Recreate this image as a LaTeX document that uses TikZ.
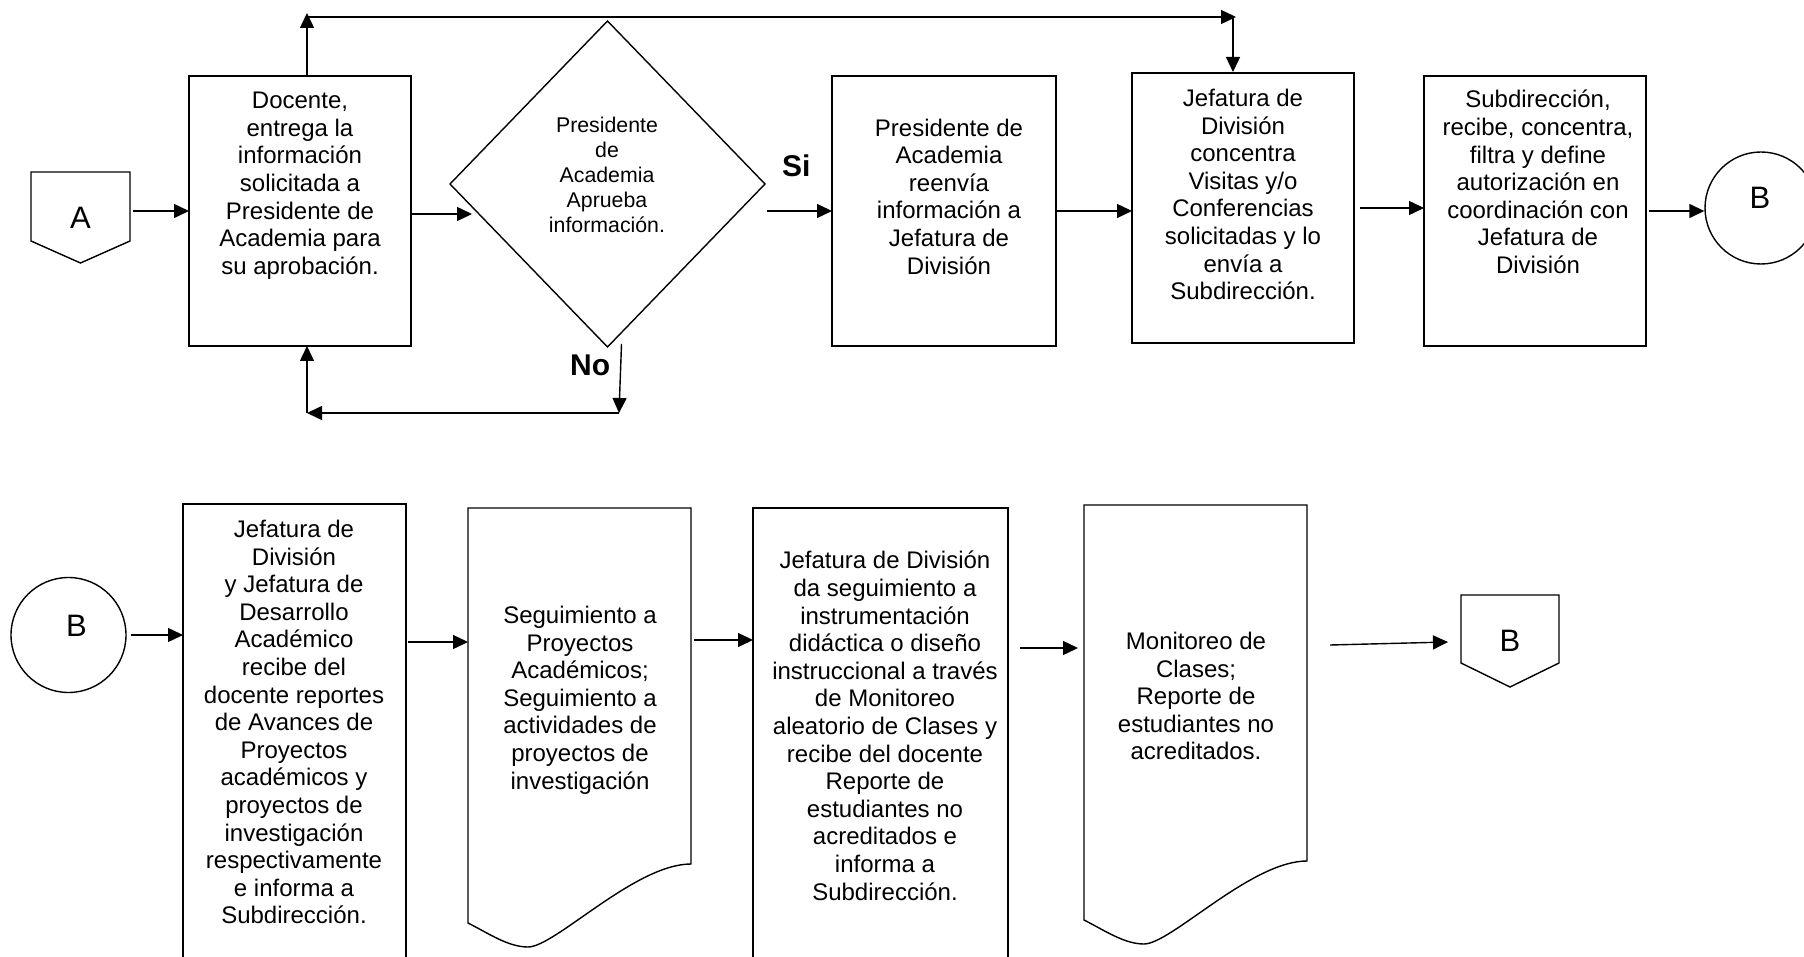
\documentclass[tikz,border=0pt]{standalone}
\usepackage{fontspec}
\setmainfont{Liberation Sans}
\usetikzlibrary{arrows.meta,shapes.geometric,calc}
\newcommand{\mydocshape}[1]{%
  \draw[ln] (#1.south west) -- (#1.north west) -- (#1.north east) -- ($(#1.south east)+(0,-59)$)
    .. controls ($(#1.south east)+(-56,-59)$) and ($(#1.south west)+(87,24)$) .. ($(#1.south west)+(60,24)$)
    .. controls ($(#1.south west)+(40,24)$) and ($(#1.south west)+(20,10)$) .. (#1.south west) -- cycle;}
\begin{document}
\begin{tikzpicture}[x=1pt,y=-1pt,
  ln/.style={line width=1.4pt},
  arr/.style={line width=1.4pt,-{Triangle[length=15pt,width=14pt]}},
  box/.style={draw,line width=1.4pt,rectangle,inner sep=0pt,outer sep=0pt},
  shp/.style={rectangle,inner sep=0pt,outer sep=0pt},
  txt/.style={anchor=north,inner sep=0pt,align=center,font=\fontsize{24}{27.6}\selectfont,
    execute at begin node={\rule{0pt}{0.75em}}},
  dtxt/.style={anchor=north,inner sep=0pt,align=center,font=\fontsize{21.3}{25}\selectfont,
    execute at begin node={\rule{0pt}{0.75em}}},
  lbl/.style={anchor=base west,inner sep=0pt,font=\fontsize{30}{30}\selectfont\bfseries},
  let/.style={inner sep=0pt,font=\fontsize{31}{31}\selectfont}
]
\useasboundingbox (0,0) rectangle (1804,957);
\fill[white] (0,0) rectangle (1804,957);
\clip (0,0) rectangle (1804,957);

% ---------- top row ----------
\node[shp, minimum width=99pt, minimum height=91pt] (offA) at (80.5,217.5) {};
\draw[ln] (offA.north west) -- (offA.north east) -- ($(offA.south east)+(0,-22)$) -- (offA.south)
  -- ($(offA.south west)+(0,-22)$) -- cycle;
\node[let] (tA) at (offA.center) {A};

\node[box, minimum width=222pt, minimum height=270pt] (box1) at (300,211) {};
\node[txt] (t1) at (300,92) {Docente,\\entrega la\\información\\solicitada a\\Presidente de\\Academia para\\su aprobación.};

\node[diamond, draw, line width=1.4pt, inner sep=0pt, outer sep=0pt, minimum width=315pt, minimum height=326pt] (dia) at (607.5,184) {};
\node[dtxt] (tdia) at (607,117) {Presidente\\de\\Academia\\Aprueba\\información.};

\node[box, minimum width=224pt, minimum height=270pt] (box2) at (944,211) {};
\node[txt] (t2) at (949,118.5) {Presidente de\\Academia\\reenvía\\información a\\Jefatura de\\División};

\node[box, minimum width=222pt, minimum height=270pt] (box3) at (1243,208) {};
\node[txt] (t3) at (1243,89) {Jefatura de\\División\\concentra\\Visitas y/o\\Conferencias\\solicitadas y lo\\envía a\\Subdirección.};

\node[box, minimum width=222pt, minimum height=270pt] (box4) at (1535,211) {};
\node[txt] (t4) at (1538,90) {Subdirección,\\recibe, concentra,\\filtra y define\\autorización en\\coordinación con\\Jefatura de\\División};

\node[circle, draw, line width=1.4pt, inner sep=0pt, minimum size=112pt] (cB) at (1761,208) {};
\node[let] (tcB) at (1760,197.5) {B};

\node[lbl] (si) at (782,177) {Si};
\node[lbl] (no) at (570,375) {No};

% connectors top row
\draw[arr, shorten <=3pt] (offA.east |- box1.west) -- (box1.west);
\coordinate (dinL) at ($(dia.west)+(22,30)$);
\draw[arr] (box1.east |- dinL) -- (dinL);
\draw[arr] ([xshift=2pt]dia.east |- box2.west) -- (box2.west);
\draw[arr] (box2.east) -- (box2.east -| box3.west);
\draw[arr, shorten <=6pt] (box3.east) -- (box3.east -| box4.west);
\draw[arr, shorten <=3pt] (box4.east) -- (box4.east -| cB.west);

% top loop
\coordinate (tl) at (307,13);
\coordinate (tr) at (1233,17);
\draw[arr] (box1.north -| tl) -- (tl);
\draw[arr] (tl |- tr) -- ([xshift=3pt]tr);
\draw[arr, shorten >=1pt] (tr) -- (tr |- box3.north);

% No loop
\coordinate (nr) at (619,413);
\coordinate (nl) at (307,413);
\draw[arr] ([xshift=14pt,yshift=3pt]dia.south) -- (nr);
\draw[arr] (nr) -- (nl);
\draw[arr] (nl) -- (nl |- box1.south);

% ---------- bottom row ----------
\node[circle, draw, line width=1.4pt, inner sep=0pt, minimum size=115pt] (cB2) at (68.5,635) {};
\node[let] (tcB2) at (76.5,626) {B};

\node[box, minimum width=223pt, minimum height=476pt] (L1) at (294.5,742) {};
\node[txt] (tL1) at (294,520) {Jefatura de\\División\\y Jefatura de\\Desarrollo\\Académico\\recibe del\\docente reportes\\de Avances de\\Proyectos\\académicos y\\proyectos de\\investigación\\respectivamente\\e informa a\\Subdirección.};

\node[shp, minimum width=223pt, minimum height=415pt] (doc1) at (579.5,715.5) {};
\mydocshape{doc1}
\node[txt] (tdoc1) at (580,606) {Seguimiento a\\Proyectos\\Académicos;\\Seguimiento a\\actividades de\\proyectos de\\investigación};

\node[box, minimum width=255pt, minimum height=472pt] (L3) at (880.5,744) {};
\node[txt] (tL3) at (885,551) {Jefatura de División\\da seguimiento a\\instrumentación\\didáctica o diseño\\instruccional a través\\de Monitoreo\\aleatorio de Clases y\\recibe del docente\\Reporte de\\estudiantes no\\acreditados e\\informa a\\Subdirección.};

\node[shp, minimum width=223pt, minimum height=415pt] (doc2) at (1195.5,712.5) {};
\mydocshape{doc2}
\node[txt] (tdoc2) at (1196,632) {Monitoreo de\\Clases;\\Reporte de\\estudiantes no\\acreditados.};

\node[shp, minimum width=98pt, minimum height=92pt] (offB) at (1510,641) {};
\draw[ln] (offB.north west) -- (offB.north east) -- ($(offB.south east)+(0,-24)$) -- (offB.south)
  -- ($(offB.south west)+(0,-24)$) -- cycle;
\node[let] (tB) at (offB.center) {B};

% connectors bottom row
\draw[arr, shorten <=4pt] (cB2.east) -- (cB2.east -| L1.west);
\coordinate (a1) at ($(L1.north east)+(2,138)$);
\draw[arr] (a1) -- (a1 -| doc1.west);
\coordinate (a2) at ($(doc1.north east)+(3,132)$);
\draw[arr] (a2) -- (a2 -| L3.west);
\coordinate (a3) at ($(L3.north east)+(12,140)$);
\draw[arr, shorten >=6pt] (a3) -- (a3 -| doc2.west);
\coordinate (a4) at ($(doc2.north east)+(23,140)$);
\draw[arr] (a4) -- ($(offB.west)+(-13,1)$);
\end{tikzpicture}
\end{document}
